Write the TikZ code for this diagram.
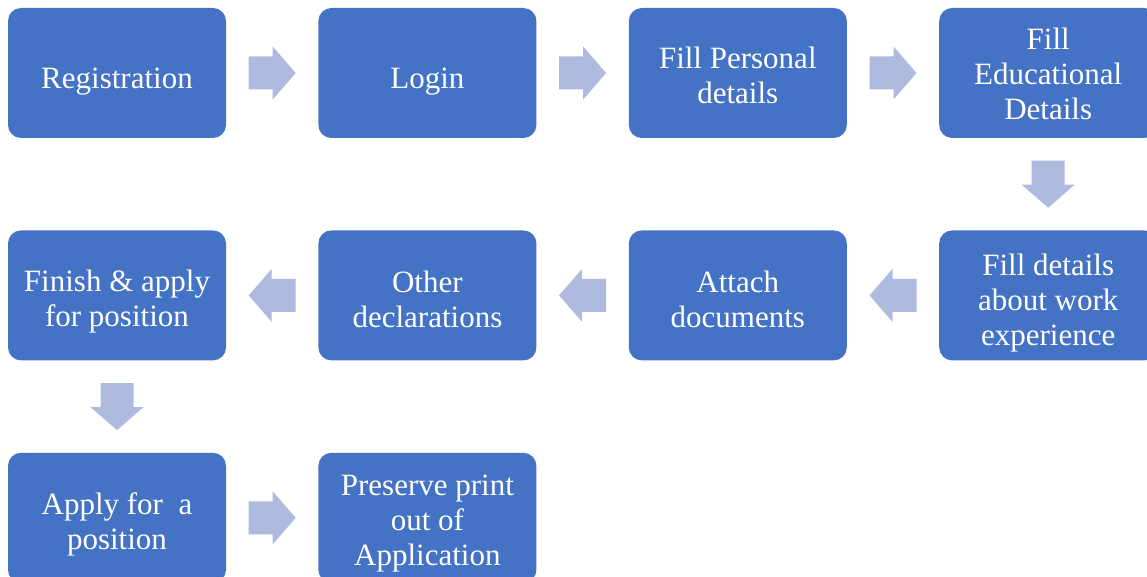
\documentclass[tikz,border=0pt]{standalone}
\usepackage{fontspec}
\setmainfont{Liberation Serif}
\usepackage{tikz}
\usetikzlibrary{positioning}
\usetikzlibrary{calc}
\definecolor{stepblue}{HTML}{4472C4}
\definecolor{arrowblue}{HTML}{AFBADF}
% lower the lines of a box a little, keeping the size of the box
\newcommand{\steptext}[2][6pt]{\raisebox{-#1}[\height][\depth]{\begin{tabular}{@{}c@{}}#2\end{tabular}}}
\tikzset{
  stepbox/.style = {rectangle, rounded corners=13pt, fill=stepblue, text=white,
    minimum width=218pt, minimum height=130pt, inner sep=2pt,
    font=\fontsize{31}{35}\selectfont},
  flowarrow/.pic = {\fill[arrowblue] (-23.5pt,-16.5pt) -- (0.5pt,-16.5pt) -- (0.5pt,-26.5pt)
    -- (23.5pt,0pt) -- (0.5pt,26.5pt) -- (0.5pt,16.5pt) -- (-23.5pt,16.5pt) -- cycle;}
}

\begin{document}
\begin{tikzpicture}[node distance=92pt]
  \clip (0,0) rectangle (1147pt,-577pt);
  \useasboundingbox (0,0) rectangle (1147pt,-577pt);

  % first row
  \node[stepbox] (reg) at (117pt,-73pt) {\steptext[9pt]{Registration}};
  \node[stepbox, right=of reg] (login) {\steptext[9pt]{Login}};
  \node[stepbox, right=of login] (personal) {\steptext{Fill Personal\\details}};
  \node[stepbox, right=of personal] (edu) {\steptext[5pt]{Fill\\Educational\\Details}};

  % second row
  \node[stepbox, below=of edu] (work) {\steptext[8pt]{Fill details\\about work\\experience}};
  \node[stepbox, left=of work] (attach) {\steptext[8pt]{Attach\\documents}};
  \node[stepbox, left=of attach] (other) {\steptext[8pt]{Other\\declarations}};
  \node[stepbox, left=of other] (finish) {\steptext[7pt]{Finish \& apply\\for position}};

  % third row
  \node[stepbox, below=of finish] (apply) {\steptext[7pt]{Apply for~ a\\position}};
  \node[stepbox, right=of apply] (preserve) {\steptext{Preserve print\\out of\\Application}};

  \pic at ($(reg)!0.5!(login)$) {flowarrow};
  \pic at ($(login)!0.5!(personal)$) {flowarrow};
  \pic at ($(personal)!0.5!(edu)$) {flowarrow};
  \pic[rotate=-90] at ($(edu)!0.5!(work)$) {flowarrow};
  \pic[rotate=180] at ($(work)!0.5!(attach)$) {flowarrow};
  \pic[rotate=180] at ($(attach)!0.5!(other)$) {flowarrow};
  \pic[rotate=180] at ($(other)!0.5!(finish)$) {flowarrow};
  \pic[rotate=-90] at ($(finish)!0.5!(apply)$) {flowarrow};
  \pic at ($(apply)!0.5!(preserve)$) {flowarrow};
\end{tikzpicture}
\end{document}
